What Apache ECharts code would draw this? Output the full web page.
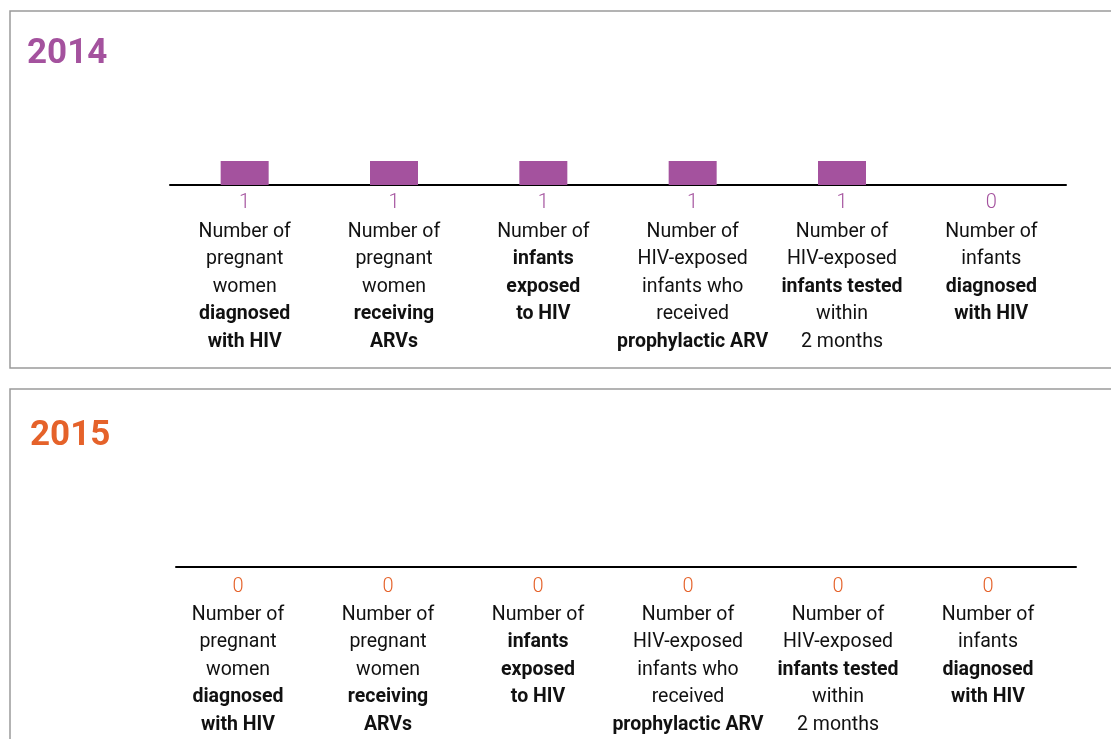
<!DOCTYPE html>
<html>
<head>
<meta charset="utf-8">
<script src="https://cdn.jsdelivr.net/npm/echarts@6/dist/echarts.min.js"></script>
<style>
  html, body { margin: 0; padding: 0; background: #fff; }
  #chart { width: 1111px; height: 739px; }
</style>
</head>
<body>
<div id="chart"></div>
<script>
// label lines, 'b:' marks a bold line
const categories = [
  ['Number of', 'pregnant', 'women', 'b:diagnosed', 'b:with HIV'],
  ['Number of', 'pregnant', 'women', 'b:receiving', 'b:ARVs'],
  ['Number of', 'b:infants', 'b:exposed', 'b:to HIV'],
  ['Number of', 'HIV-exposed', 'infants who', 'received', 'b:prophylactic ARV'],
  ['Number of', 'HIV-exposed', 'b:infants tested', 'within', '2 months'],
  ['Number of', 'infants', 'b:diagnosed', 'b:with HIV']
]
const years = ['2014', '2015']
const values2014 = [1, 1, 1, 1, 1, 0]
const values2015 = [0, 0, 0, 0, 0, 0]

const FONT = "Roboto, 'Liberation Sans', sans-serif"
const PURPLE = '#a4529e'
const ORANGE = '#e5622a'

function labelText(values) {
  return function (value, index) {
    const lines = categories[index].map(line =>
      line.startsWith('b:') ? '{b|' + line.slice(2) + '}' : '{n|' + line + '}'
    )
    return ['{v|' + values[index] + '}'].concat(lines).join('\n')
  }
}

function rich(color, vHeight) {
  return {
    v: { fontFamily: FONT, fontSize: 20, fontWeight: 300, color: color, lineHeight: vHeight },
    n: { fontFamily: FONT, fontSize: 19.5, color: '#111', lineHeight: 27.5 },
    b: { fontFamily: FONT, fontSize: 19.5, color: '#111', fontWeight: 'bold', lineHeight: 27.5 }
  }
}

function xAxis(gridIndex, values, color, vHeight, margin, padding) {
  return {
    type: 'category',
    gridIndex: gridIndex,
    data: categories.map(c => c[0]),
    axisLine: { lineStyle: { color: '#000', width: 2 } },
    axisTick: { show: false },
    axisLabel: {
      interval: 0,
      margin: margin,
      padding: padding,
      align: 'center',
      verticalAlign: 'top',
      formatter: labelText(values),
      rich: rich(color, vHeight)
    }
  }
}

const chart = echarts.init(document.getElementById('chart'))
chart.setOption({
  backgroundColor: '#fff',
  animation: false,
  graphic: [
    { type: 'rect', shape: { x: 10, y: 11, width: 1110, height: 357 }, style: { fill: 'none', stroke: '#9a9a9a', lineWidth: 1.5 } },
    { type: 'rect', shape: { x: 10, y: 389, width: 1110, height: 400 }, style: { fill: 'none', stroke: '#9a9a9a', lineWidth: 1.5 } }
  ],
  title: [
    { text: years[0], left: 22, top: 32, textStyle: { fontFamily: FONT, fontSize: 35, fontWeight: 'bold', color: PURPLE } },
    { text: years[1], left: 25, top: 414, textStyle: { fontFamily: FONT, fontSize: 35, fontWeight: 'bold', color: ORANGE } }
  ],
  grid: [
    { left: 170, width: 896, top: 161, height: 24 },
    { left: 176, width: 900, top: 544, height: 23 }
  ],
  xAxis: [
    xAxis(0, values2014, PURPLE, 30, 3, [0, 0, 0, 0]),
    xAxis(1, values2015, ORANGE, 28, 6, [0, 26, 0, 0])
  ],
  yAxis: [
    { type: 'value', gridIndex: 0, min: 0, max: 1, show: false },
    { type: 'value', gridIndex: 1, min: 0, max: 1, show: false }
  ],
  series: [
    { type: 'bar', xAxisIndex: 0, yAxisIndex: 0, data: values2014, barWidth: 48, itemStyle: { color: PURPLE } },
    { type: 'bar', xAxisIndex: 1, yAxisIndex: 1, data: values2015, barWidth: 48, itemStyle: { color: ORANGE } }
  ]
})
</script>
</body>
</html>
